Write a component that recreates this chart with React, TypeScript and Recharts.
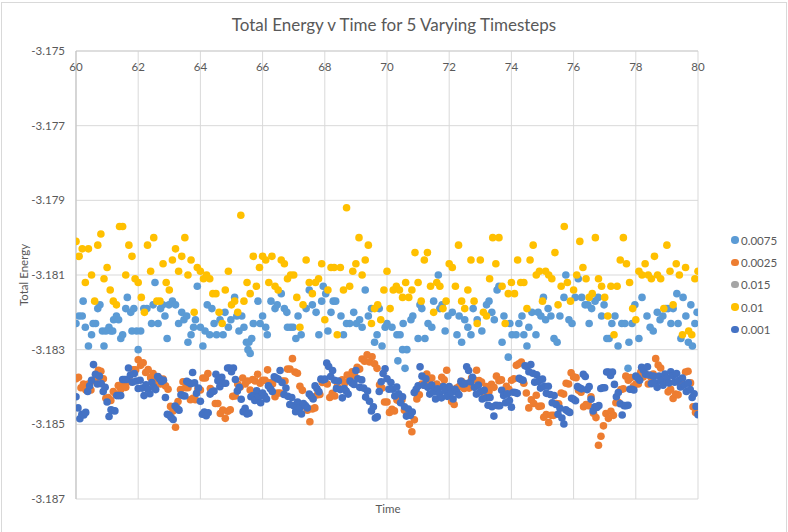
import { ScatterChart, Scatter, XAxis, YAxis, CartesianGrid, Legend } from "recharts";

const FONT = "Lato, 'Open Sans', sans-serif";
const TEXT = "#595959";

const xTicks = [60, 62, 64, 66, 68, 70, 72, 74, 76, 78, 80];
const yTicks = [-3.187, -3.185, -3.183, -3.181, -3.179, -3.177, -3.175];

const seriesNames = ["0.0075", "0.0025", "0.015", "0.01", "0.001"];
const seriesColors = ["#5B9BD5", "#ED7D31", "#A5A5A5", "#FFC000", "#4472C4"];

// dt = 0.0075, sampled output points [time, energy]
const dt0075: [number, number][] = [
  [60.0, -3.1823], [60.1, -3.1821], [60.2, -3.1821], [60.23, -3.1817], [60.3, -3.1824], [60.4, -3.1829], [60.5, -3.1826],
  [60.55, -3.1823], [60.63, -3.1823], [60.7, -3.1819], [60.77, -3.1818], [60.85, -3.1825], [60.9, -3.1829], [60.96, -3.1825],
  [61.06, -3.1824], [61.12, -3.1825], [61.18, -3.1825], [61.21, -3.1822], [61.3, -3.1821], [61.37, -3.1822], [61.44, -3.1827],
  [61.5, -3.1826], [61.6, -3.1819], [61.65, -3.1816], [61.76, -3.182], [61.8, -3.1825], [61.86, -3.1819], [61.95, -3.1825],
  [62.0, -3.183], [62.08, -3.1825], [62.18, -3.1819], [62.28, -3.1819], [62.43, -3.1823], [62.48, -3.1818], [62.54, -3.1812],
  [62.64, -3.1823], [62.72, -3.1819], [62.79, -3.1818], [62.86, -3.1821], [62.93, -3.1827], [62.99, -3.1818], [63.1, -3.1817],
  [63.2, -3.1818], [63.3, -3.1823], [63.4, -3.182], [63.47, -3.1822], [63.56, -3.1821], [63.6, -3.1828], [63.7, -3.1826],
  [63.78, -3.1824], [63.84, -3.1822], [63.9, -3.1813], [64.0, -3.1824], [64.08, -3.1829], [64.15, -3.1825], [64.22, -3.1818],
  [64.3, -3.1826], [64.37, -3.1819], [64.44, -3.1823], [64.52, -3.1826], [64.63, -3.1822], [64.73, -3.1826], [64.79, -3.182],
  [64.9, -3.1824], [64.98, -3.1822], [65.1, -3.1816], [65.17, -3.1821], [65.24, -3.1825], [65.33, -3.1821], [65.4, -3.1824],
  [65.48, -3.1828], [65.53, -3.183], [65.56, -3.1828], [65.6, -3.1831], [65.65, -3.1827], [65.7, -3.1823], [65.85, -3.1817],
  [65.92, -3.1823], [66.0, -3.1821], [66.1, -3.1824], [66.15, -3.1826], [66.27, -3.1817], [66.4, -3.1819], [66.47, -3.1818],
  [66.6, -3.1815], [66.7, -3.1819], [66.78, -3.182], [66.8, -3.1824], [66.9, -3.1824], [66.98, -3.1824], [67.07, -3.1827],
  [67.14, -3.1821], [67.24, -3.1826], [67.4, -3.1819], [67.5, -3.1814], [67.6, -3.1818], [67.72, -3.182], [67.81, -3.1826],
  [67.9, -3.1817], [67.95, -3.1813], [68.03, -3.1815], [68.1, -3.1825], [68.2, -3.182], [68.27, -3.1817], [68.35, -3.1817],
  [68.52, -3.1821], [68.6, -3.1826], [68.7, -3.1823], [68.8, -3.1823], [68.93, -3.182], [69.02, -3.1823], [69.12, -3.1822],
  [69.2, -3.1824], [69.3, -3.1814], [69.4, -3.1821], [69.5, -3.1819], [69.6, -3.1828], [69.68, -3.1826], [69.75, -3.1819],
  [69.84, -3.1829], [69.94, -3.1824], [70.0, -3.1823], [70.16, -3.1824], [70.32, -3.1826], [70.35, -3.1833], [70.42, -3.1826],
  [70.5, -3.183], [70.52, -3.1823], [70.58, -3.1835], [70.64, -3.183], [70.77, -3.1822], [70.83, -3.1821], [71.0, -3.1827],
  [71.06, -3.1818], [71.12, -3.1819], [71.22, -3.1827], [71.32, -3.1823], [71.44, -3.1824], [71.5, -3.1817], [71.65, -3.181],
  [71.7, -3.1819], [71.77, -3.1818], [71.87, -3.1825], [71.96, -3.1821], [72.1, -3.182], [72.25, -3.1826], [72.32, -3.1821],
  [72.4, -3.1828], [72.5, -3.1822], [72.6, -3.1824], [72.7, -3.1826], [72.77, -3.1819], [72.9, -3.1822], [73.05, -3.1825],
  [73.2, -3.1818], [73.28, -3.1817], [73.37, -3.182], [73.45, -3.1822], [73.54, -3.1814], [73.6, -3.1813], [73.7, -3.1828],
  [73.76, -3.1821], [73.9, -3.1832], [73.95, -3.1823], [74.02, -3.1826], [74.15, -3.1826], [74.24, -3.1823], [74.34, -3.1821],
  [74.4, -3.1826], [74.5, -3.1829], [74.56, -3.1824], [74.66, -3.182], [74.79, -3.1826], [74.86, -3.182], [74.95, -3.1821],
  [75.03, -3.1816], [75.1, -3.1822], [75.18, -3.1819], [75.27, -3.1821], [75.37, -3.1827], [75.47, -3.1828], [75.56, -3.1821],
  [75.69, -3.1816], [75.75, -3.181], [75.85, -3.1822], [75.95, -3.1823], [76.05, -3.1816], [76.15, -3.1811], [76.26, -3.1816],
  [76.37, -3.1818], [76.46, -3.1818], [76.5, -3.1823], [76.58, -3.1819], [76.69, -3.1817], [76.79, -3.1816], [76.9, -3.1821],
  [76.98, -3.1818], [77.07, -3.1827], [77.14, -3.1827], [77.23, -3.1823], [77.33, -3.1821], [77.43, -3.1829], [77.55, -3.1823],
  [77.65, -3.1823], [77.75, -3.1835], [77.78, -3.1828], [77.88, -3.1823], [77.97, -3.1818], [78.1, -3.1827], [78.2, -3.1816],
  [78.36, -3.1821], [78.46, -3.1824], [78.56, -3.1825], [78.69, -3.182], [78.78, -3.1822], [78.87, -3.1821], [78.97, -3.1819],
  [79.04, -3.1819], [79.13, -3.1823], [79.2, -3.1819], [79.32, -3.1815], [79.36, -3.1823], [79.45, -3.1827], [79.52, -3.1816],
  [79.61, -3.1821], [79.69, -3.1828], [79.77, -3.1818], [79.82, -3.1829], [79.9, -3.1823], [79.97, -3.182],
];

// dt = 0.0025, one point every 0.08 from t = 60
const dt0025Step = 0.08;
const dt0025Energy = [
  -3.18378, -3.18374, -3.18402, -3.18392, -3.18408, -3.18392, -3.18408, -3.18382, -3.18385, -3.18355,
  -3.18358, -3.18378, -3.1843, -3.18428, -3.18436, -3.18412, -3.1842, -3.18396, -3.18407, -3.18388,
  -3.18401, -3.18383, -3.18386, -3.18354, -3.18354, -3.18327, -3.18342, -3.18335, -3.18361, -3.18353,
  -3.18375, -3.18364, -3.18385, -3.18373, -3.18392, -3.18379, -3.18397, -3.18406, -3.18452, -3.18464,
  -3.18508, -3.18439, -3.18407, -3.18386, -3.18402, -3.18402, -3.18434, -3.1843, -3.18434, -3.18405,
  -3.18408, -3.18376, -3.18376, -3.18364, -3.18404, -3.18412, -3.18444, -3.18444, -3.18471, -3.18462,
  -3.18484, -3.18465, -3.18461, -3.18425, -3.18424, -3.18392, -3.184, -3.18376, -3.18392, -3.18384,
  -3.18408, -3.1838, -3.18384, -3.18366, -3.1839, -3.18382, -3.18382, -3.18354, -3.18389, -3.18392,
  -3.18426, -3.18416, -3.18416, -3.18384, -3.18384, -3.18352, -3.18352, -3.18324, -3.1836, -3.18363,
  -3.18398, -3.18409, -3.18451, -3.18462, -3.18493, -3.18459, -3.18456, -3.18421, -3.1842, -3.18388,
  -3.18388, -3.18392, -3.18428, -3.18417, -3.18424, -3.18398, -3.18405, -3.18381, -3.18389, -3.18368,
  -3.18379, -3.18359, -3.1837, -3.18347, -3.18352, -3.18325, -3.18331, -3.18314, -3.18333, -3.18319,
  -3.18338, -3.1835, -3.18394, -3.18403, -3.1844, -3.1844, -3.18468, -3.1846, -3.18464, -3.18435,
  -3.18438, -3.18434, -3.18462, -3.18463, -3.185, -3.1852, -3.18488, -3.18432, -3.18421, -3.18392,
  -3.18395, -3.18365, -3.18384, -3.18376, -3.184, -3.18392, -3.18399, -3.18374, -3.18381, -3.18355,
  -3.18401, -3.18439, -3.18447, -3.18403, -3.18399, -3.18385, -3.18404, -3.18391, -3.18403, -3.18376,
  -3.18381, -3.18355, -3.18383, -3.18387, -3.18417, -3.18399, -3.18412, -3.18393, -3.18401, -3.18371,
  -3.18383, -3.18381, -3.18411, -3.18398, -3.18406, -3.18382, -3.18378, -3.18342, -3.18338, -3.18333,
  -3.1839, -3.18416, -3.18456, -3.18434, -3.18444, -3.18422, -3.18452, -3.18451, -3.18481, -3.18474,
  -3.18495, -3.18476, -3.18476, -3.18444, -3.18445, -3.18416, -3.18419, -3.1839, -3.18392, -3.18362,
  -3.18373, -3.18375, -3.18409, -3.18414, -3.18453, -3.18447, -3.1845, -3.18426, -3.1847, -3.18482,
  -3.18556, -3.18532, -3.18504, -3.18471, -3.18484, -3.18465, -3.18476, -3.18442, -3.18441, -3.18407,
  -3.18405, -3.18371, -3.18382, -3.18375, -3.18399, -3.18392, -3.18392, -3.1836, -3.18373, -3.18366,
  -3.18392, -3.18373, -3.18365, -3.18324, -3.18341, -3.18349, -3.18382, -3.18383, -3.18413, -3.18406,
  -3.18431, -3.18419, -3.18421, -3.18392, -3.18394, -3.1836, -3.18358, -3.18389, -3.18453, -3.18468,
  -3.18468,
];

// dt = 0.015: no points inside this window
const dt015: [number, number][] = [];

// dt = 0.01, one point every 0.1 from t = 60
const dt01Step = 0.1;
const dt01Energy = [
  -3.1801, -3.1805, -3.1803, -3.1812, -3.1803, -3.181, -3.1817, -3.1802, -3.1799, -3.1811,
  -3.1808, -3.1814, -3.1817, -3.1818, -3.1797, -3.1797, -3.181, -3.1802, -3.1805, -3.1811,
  -3.1812, -3.1816, -3.182, -3.1802, -3.1809, -3.18, -3.1817, -3.1817, -3.1807, -3.1812,
  -3.1814, -3.1806, -3.1803, -3.1809, -3.1805, -3.18, -3.181, -3.1806, -3.182, -3.1808,
  -3.1809, -3.1811, -3.181, -3.1811, -3.1815, -3.1815, -3.182, -3.1823, -3.1814, -3.1809,
  -3.1818, -3.1817, -3.182, -3.1794, -3.1817, -3.1812, -3.1815, -3.1805, -3.1813, -3.1808,
  -3.1805, -3.1806, -3.1812, -3.1805, -3.1813, -3.1814, -3.1806, -3.1807, -3.1811, -3.181,
  -3.181, -3.1816, -3.1824, -3.1818, -3.1806, -3.1812, -3.1815, -3.1812, -3.1811, -3.1807,
  -3.1822, -3.1814, -3.1808, -3.1808, -3.1826, -3.1808, -3.1814, -3.1792, -3.1813, -3.1809,
  -3.1807, -3.18, -3.181, -3.1806, -3.1802, -3.1823, -3.1819, -3.1818, -3.1822, -3.1814,
  -3.1809, -3.1819, -3.1814, -3.1813, -3.1814, -3.1816, -3.1812, -3.1816, -3.1814, -3.1804,
  -3.1812, -3.1817, -3.1806, -3.1804, -3.1813, -3.182, -3.1812, -3.1813, -3.1819, -3.1817,
  -3.1807, -3.1808, -3.1813, -3.1802, -3.1817, -3.1819, -3.1814, -3.1806, -3.1817, -3.1823,
  -3.1806, -3.182, -3.1821, -3.1811, -3.18, -3.1807, -3.18, -3.1813, -3.1823, -3.1815,
  -3.1812, -3.1815, -3.1806, -3.1812, -3.1812, -3.1819, -3.1806, -3.1802, -3.181, -3.1809,
  -3.1817, -3.1809, -3.181, -3.1811, -3.1804, -3.1818, -3.1813, -3.1797, -3.1812, -3.1817,
  -3.1814, -3.181, -3.1801, -3.1808, -3.1811, -3.1816, -3.1815, -3.18, -3.1811, -3.1813,
  -3.1816, -3.1821, -3.1813, -3.1826, -3.1813, -3.1806, -3.18, -3.1807, -3.1812, -3.1819,
  -3.1822, -3.1809, -3.181, -3.1807, -3.181, -3.1811, -3.1805, -3.181, -3.1811, -3.1819,
  -3.1802, -3.1809, -3.1818, -3.1807, -3.181, -3.1826, -3.1808, -3.1825, -3.1826, -3.1811,
  -3.1809,
];

// dt = 0.001, one point every 0.0625 from t = 60
const dt001Step = 0.0625;
const dt001Energy = [
  -3.18426, -3.18456, -3.18485, -3.18473, -3.18475, -3.18468, -3.18412, -3.18397, -3.18382, -3.1834,
  -3.18366, -3.18392, -3.18371, -3.18391, -3.18412, -3.18401, -3.1844, -3.18479, -3.18461, -3.18463,
  -3.18464, -3.18423, -3.18423, -3.18423, -3.1838, -3.1838, -3.1838, -3.18349, -3.18368, -3.18387,
  -3.18364, -3.18384, -3.18404, -3.18382, -3.18403, -3.18423, -3.18394, -3.18406, -3.18418, -3.18388,
  -3.184, -3.18407, -3.18372, -3.18378, -3.18385, -3.18382, -3.18428, -3.18473, -3.18476, -3.18482,
  -3.18487, -3.18451, -3.18457, -3.18462, -3.18421, -3.18423, -3.18424, -3.18385, -3.18388, -3.18391,
  -3.18361, -3.18389, -3.18417, -3.18403, -3.18438, -3.18473, -3.18467, -3.18477, -3.18469, -3.18419,
  -3.18413, -3.18411, -3.18366, -3.18383, -3.18399, -3.18374, -3.1839, -3.1839, -3.18349, -3.18349,
  -3.18359, -3.18349, -3.1838, -3.18411, -3.18401, -3.18433, -3.18466, -3.18457, -3.18472, -3.1847,
  -3.18426, -3.18423, -3.18436, -3.1841, -3.18426, -3.18442, -3.18416, -3.18424, -3.18432, -3.18397,
  -3.18405, -3.18412, -3.18373, -3.18376, -3.18379, -3.18356, -3.18388, -3.1842, -3.18403, -3.18425,
  -3.18447, -3.18428, -3.1845, -3.18466, -3.1844, -3.18456, -3.18472, -3.18444, -3.1845, -3.18456,
  -3.18419, -3.18425, -3.18432, -3.18397, -3.18405, -3.18413, -3.18379, -3.18381, -3.18379, -3.18336,
  -3.18345, -3.18372, -3.18356, -3.18382, -3.18404, -3.18384, -3.18407, -3.18429, -3.18404, -3.18411,
  -3.18419, -3.18384, -3.18389, -3.18393, -3.18356, -3.18378, -3.18401, -3.18381, -3.18403, -3.18427,
  -3.18411, -3.18438, -3.18464, -3.18453, -3.18483, -3.1848, -3.18412, -3.18386, -3.18364, -3.18351,
  -3.18378, -3.18406, -3.18388, -3.18406, -3.18424, -3.184, -3.18418, -3.18442, -3.18426, -3.18453,
  -3.18478, -3.18459, -3.18476, -3.18467, -3.18415, -3.18406, -3.18397, -3.18346, -3.18371, -3.18395,
  -3.18378, -3.18401, -3.18419, -3.18395, -3.18413, -3.18432, -3.18405, -3.18417, -3.18429, -3.18399,
  -3.18411, -3.18425, -3.18399, -3.18415, -3.18432, -3.18406, -3.18414, -3.18421, -3.18385, -3.18392,
  -3.18391, -3.18346, -3.18356, -3.18386, -3.18374, -3.18401, -3.18419, -3.18395, -3.18413, -3.18432,
  -3.18409, -3.18429, -3.18449, -3.18428, -3.18453, -3.18478, -3.18449, -3.1845, -3.1845, -3.18409,
  -3.18423, -3.18442, -3.18418, -3.18436, -3.18454, -3.18414, -3.18415, -3.18417, -3.18377, -3.1838,
  -3.18382, -3.18343, -3.18345, -3.18359, -3.1834, -3.18363, -3.18387, -3.18367, -3.18385, -3.18403,
  -3.18379, -3.18398, -3.18417, -3.18398, -3.1842, -3.18442, -3.18423, -3.18447, -3.18473, -3.18457,
  -3.18483, -3.18499, -3.18461, -3.18465, -3.18468, -3.1843, -3.18433, -3.18437, -3.18399, -3.18402,
  -3.18405, -3.18366, -3.18372, -3.18407, -3.18399, -3.18433, -3.18464, -3.18453, -3.18455, -3.1845,
  -3.18404, -3.18402, -3.18402, -3.1836, -3.1836, -3.18369, -3.1836, -3.18393, -3.18426, -3.18415,
  -3.18445, -3.18475, -3.1845, -3.1845, -3.18449, -3.18406, -3.18406, -3.18408, -3.18371, -3.18376,
  -3.18382, -3.18347, -3.18355, -3.18366, -3.18346, -3.18368, -3.18391, -3.18371, -3.18389, -3.18401,
  -3.18371, -3.18383, -3.18395, -3.18365, -3.18377, -3.18389, -3.18359, -3.1837, -3.18387, -3.18364,
  -3.18382, -3.184, -3.18376, -3.18394, -3.18412, -3.18389, -3.18407, -3.18428, -3.18418, -3.18452,
  -3.18474,
];

type Pt = { t: number; e: number };

const fromPairs = (pairs: [number, number][]): Pt[] => pairs.map(([t, e]) => ({ t, e }));
const fromSteps = (values: number[], step: number): Pt[] =>
  values.map((e, i) => ({ t: +(60 + i * step).toFixed(4), e }));

const seriesData: Pt[][] = [
  fromPairs(dt0075),
  fromSteps(dt0025Energy, dt0025Step),
  fromPairs(dt015),
  fromSteps(dt01Energy, dt01Step),
  fromSteps(dt001Energy, dt001Step),
];

const makeDot = (color: string) => (props: any) =>
  props.cx == null ? <g /> : <circle cx={props.cx} cy={props.cy} r={3.8} fill={color} />;

// x labels sit just under the top axis line, inside the plot
function TopTick(props: any) {
  const { x, y, payload } = props;
  return (
    <text x={x} y={y + 20} textAnchor="middle" fill={TEXT} fontSize={11.5} fontFamily={FONT}>
      {payload.value}
    </text>
  );
}

function LegendBox() {
  return (
    <div style={{ fontFamily: FONT, fontSize: 11.5, color: TEXT }}>
      {seriesNames.map((name, i) => (
        <div key={name} style={{ display: "flex", alignItems: "center", height: 22.3 }}>
          <span
            style={{
              display: "inline-block",
              width: 7.5,
              height: 7.5,
              borderRadius: "50%",
              background: seriesColors[i],
              marginRight: 2.5,
            }}
          />
          {name}
        </div>
      ))}
    </div>
  );
}

export default function App() {
  return (
    <div style={{ position: "fixed", left: 0, top: 0, width: 788, height: 532, background: "#fff", overflow: "hidden" }}>
      <div
        style={{
          position: "absolute",
          left: 1,
          top: 2,
          width: 786,
          height: 560,
          border: "1px solid #D9D9D9",
          boxSizing: "border-box",
        }}
      />
      <div
        style={{
          position: "absolute",
          left: 0,
          top: 14,
          width: 788,
          textAlign: "center",
          fontFamily: FONT,
          fontSize: 17,
          color: TEXT,
        }}
      >
        Total Energy v Time for 5 Varying Timesteps
      </div>
      <div
        style={{
          position: "absolute",
          left: 288,
          top: 502,
          width: 200,
          textAlign: "center",
          fontFamily: FONT,
          fontSize: 11.5,
          color: TEXT,
        }}
      >
        Time
      </div>
      <div style={{ position: "absolute", left: 0, top: 0 }}>
        <ScatterChart width={788} height={532} margin={{ top: 21, right: 90, bottom: 33, left: 16 }}>
          <CartesianGrid stroke="#D9D9D9" />
          <XAxis
            type="number"
            dataKey="t"
            orientation="top"
            height={30}
            domain={[60, 80]}
            ticks={xTicks}
            interval={0}
            allowDataOverflow
            axisLine={{ stroke: "#D0D0D0" }}
            tickLine={false}
            tickSize={0}
            tickMargin={0}
            tick={<TopTick />}
          />
          <YAxis
            type="number"
            dataKey="e"
            width={60}
            domain={[-3.187, -3.175]}
            ticks={yTicks}
            interval={0}
            allowDataOverflow
            axisLine={{ stroke: "#BFBFBF" }}
            tickLine={false}
            tickMargin={5}
            tickFormatter={(v: number) => v.toFixed(3)}
            tick={{ fill: TEXT, fontSize: 11.5, fontFamily: FONT }}
            label={{
              value: "Total Energy",
              angle: -90,
              position: "insideLeft",
              offset: 8,
              style: { textAnchor: "middle", fill: TEXT, fontSize: 11.5, fontFamily: FONT },
            }}
          />
          <Legend
            layout="vertical"
            align="center"
            verticalAlign="middle"
            content={<LegendBox />}
            wrapperStyle={{ left: 731, top: 229, width: 60 }}
          />
          {seriesNames.map((name, i) => (
            <Scatter
              key={name}
              name={name}
              data={seriesData[i]}
              fill={seriesColors[i]}
              shape={makeDot(seriesColors[i])}
              isAnimationActive={false}
            />
          ))}
        </ScatterChart>
      </div>
    </div>
  );
}
